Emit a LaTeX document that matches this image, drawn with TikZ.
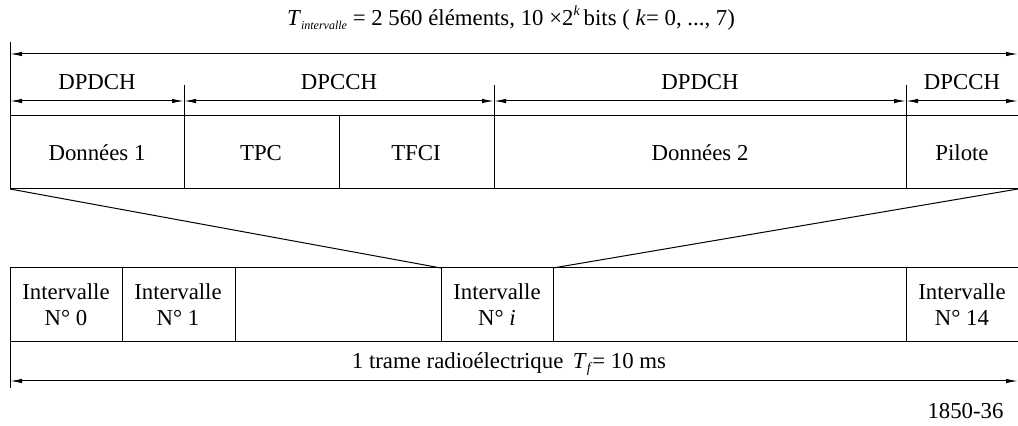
\documentclass[tikz,border=0pt]{standalone}
\usepackage{fontspec}
\setmainfont{Liberation Serif}
\usetikzlibrary{arrows.meta}
\begin{document}
\begin{tikzpicture}[x=0.5pt,y=-0.5pt,
  line width=0.5pt,
  lbl/.style={inner sep=0pt,font=\fontsize{11.4}{13}\selectfont},
  dim/.style={{Latex[length=6pt,width=2.2pt]}-{Latex[length=6pt,width=2.2pt]}},
  slot/.style={lbl,align=center}]
\useasboundingbox (0,0) rectangle (1018,426);

% title
\node[lbl] (title) at (511,18) {\textit{T}\raisebox{-0.45ex}{\fontsize{6}{7}\selectfont\textit{intervalle}} = 2 560 éléments, 10 ×2\raisebox{0.9ex}{\fontsize{7}{8}\selectfont\textit{k}}\,bits ( \textit{k}= 0, ..., 7)};

% slot structure: boundaries
\coordinate (tl) at (10,42);
\coordinate (bl) at (10,189);
\coordinate (br) at (1018,189);
\draw (tl) -- (bl);
\draw (10,116) -- (1018,116);
\draw (bl) -- (br);
\draw (184,85) -- (184,189);
\draw (494,85) -- (494,189);
\draw (906,85) -- (906,189);
\draw (339,116) -- (339,189);

% dimension arrows
\draw[dim] (10,54) -- (1018,54);
\draw[dim] (10,101) -- (184,101);
\draw[dim] (184,101) -- (494,101);
\draw[dim] (494,101) -- (906,101);
\draw[dim] (906,101) -- (1018,101);

% channel labels
\node[lbl] (ch1) at (97,82) {DPDCH};
\node[lbl] (ch2) at (339,82) {DPCCH};
\node[lbl] (ch3) at (700,82) {DPDCH};
\node[lbl] (ch4) at (962,82) {DPCCH};

% field labels
\node[lbl] (f1) at (97,153) {Données 1};
\node[lbl] (f2) at (261,153) {TPC};
\node[lbl] (f3) at (416,153) {TFCI};
\node[lbl] (f4) at (700,153) {Données 2};
\node[lbl] (f5) at (962,153) {Pilote};

% frame of 15 slots
\coordinate (si-l) at (441,268);
\coordinate (si-r) at (553,268);
\draw (10,268) -- (1018,268);
\draw (10,342) -- (1018,342);
\draw (10,268) -- (10,388);
\foreach \x in {122,235,441,553,906} \draw (\x,268) -- (\x,342);

% zoom lines
\draw (bl) -- (si-l);
\draw (br) -- (si-r);

\node[slot] (s0) at (66,305) {Intervalle\\N° 0};
\node[slot] (s1) at (178,305) {Intervalle\\N° 1};
\node[slot] (si) at (497,305) {Intervalle\\N° \textit{i}};
\node[slot] (s14) at (962,305) {Intervalle\\N° 14};

\node[lbl] (frame) at (509,364) {1 trame radioélectrique \,\textit{T}\raisebox{-0.45ex}{\fontsize{7}{8}\selectfont\textit{f}}= 10 ms};
\draw[dim] (10,381) -- (1018,381);

\node[lbl,anchor=east] (ref) at (1004,411) {1850-36};
\end{tikzpicture}
\end{document}
